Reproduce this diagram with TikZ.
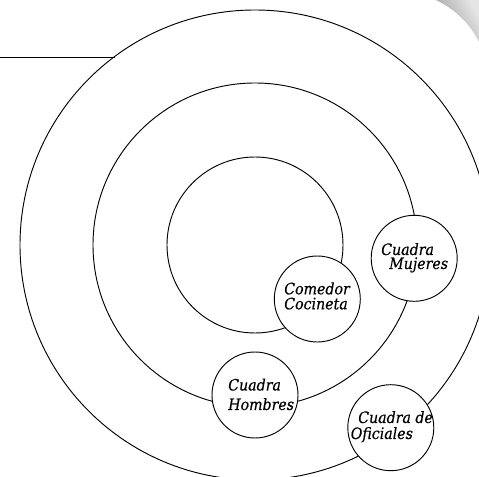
\documentclass[tikz,border=0pt]{standalone}
\usepackage{fontspec}
\setmainfont[ItalicFeatures={FakeStretch=0.9,FakeBold=0.4}]{DejaVu Serif}
\begin{document}
\begin{tikzpicture}[x=0.75pt,y=-0.75pt,
  ring/.style={draw=black,line width=0.7pt},
  room/.style={circle,draw=black,line width=0.7pt,fill=white,minimum size=64.5pt,inner sep=0pt},
  lbl/.style={anchor=base west,inner sep=0pt,font=\fontsize{11.8}{14}\selectfont\itshape}]
\useasboundingbox (0,0) rectangle (479,477);
% gray corner
\shade[left color=black!40,right color=black!10,shading angle=120]
  (436,0) .. controls (452,8) and (468,20) .. (479,42) -- (479,0) -- cycle;
% rings
\coordinate (c) at (255,245);
\draw[ring] (c) circle[radius=235];
\draw[ring] (c) circle[radius=162];
\draw[ring] (c) circle[radius=88];
\coordinate (l0) at (0,57);
\coordinate (l1) at (115,57);
\draw[ring] (l0) -- (l1);
% rooms
\node[room] (com) at (317.3,299) {};
\node[room] (muj) at (414.2,258.3) {};
\node[room] (hom) at (255,395) {};
\node[room] (ofi) at (390.8,427.7) {};
% labels
\node[lbl] (t1) at (284,294.3) {Comedor};
\node[lbl] (t2) at (284,309.3) {Cocineta};
\node[lbl] (t3) at (381,255) {Cuadra};
\node[lbl] (t4) at (389,269) {Mujeres};
\node[lbl] (t5) at (228,390.5) {Cuadra};
\node[lbl] (t6) at (228,410) {Hombres};
\node[lbl] (t7) at (358,423) {Cuadra de};
\node[lbl] (t8) at (350.5,439) {Oficiales};
\end{tikzpicture}
\end{document}
